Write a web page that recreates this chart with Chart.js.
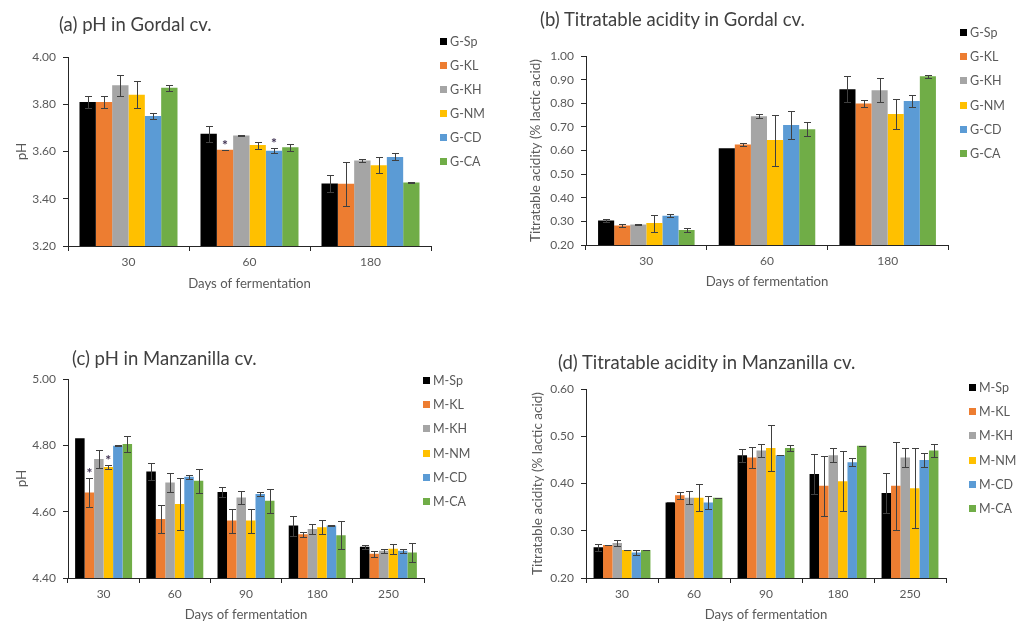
<!DOCTYPE html>
<html>
<head>
<meta charset="utf-8">
<title>pH and titratable acidity during fermentation</title>
<script src="https://cdn.jsdelivr.net/npm/chart.js@4.4.1/dist/chart.umd.min.js"></script>
<style>
  body { margin: 0; background: #fff; font-family: Lato, sans-serif; }
  #page { position: relative; width: 1021px; height: 624px; overflow: hidden; }
  .panel { position: absolute; }
  .title { position: absolute; white-space: nowrap; color: #404040; font-size: 18.5px; line-height: 20px; }
  .legend { position: absolute; font-size: 12.5px; color: #595959; }
  .legend .item { position: absolute; left: 0; white-space: nowrap; height: 14px; line-height: 14px; }
  .legend .box { position: absolute; left: 0; top: 3px; width: 7px; height: 7px; }
  .legend .txt { position: absolute; left: 10px; top: 0; }
</style>
</head>
<body>
<div id="page">
  <div class="panel" style="left:0;top:0;width:510px;height:310px"><canvas id="chartA"></canvas></div>
  <div class="panel" style="left:510px;top:0;width:511px;height:310px"><canvas id="chartB"></canvas></div>
  <div class="panel" style="left:0;top:310px;width:510px;height:314px"><canvas id="chartC"></canvas></div>
  <div class="panel" style="left:510px;top:310px;width:511px;height:314px"><canvas id="chartD"></canvas></div>

  <div class="title" style="left:59px;top:14px">(a) pH in Gordal cv.</div>
  <div class="title" style="left:540px;top:9px">(b) Titratable acidity in Gordal cv.</div>
  <div class="title" style="left:72px;top:348px">(c) pH in Manzanilla cv.</div>
  <div class="title" style="left:558px;top:352px">(d) Titratable acidity in Manzanilla cv.</div>

  <div class="legend" id="legendA" style="left:440px;top:35px"></div>
  <div class="legend" id="legendB" style="left:960px;top:26px"></div>
  <div class="legend" id="legendC" style="left:423px;top:374px"></div>
  <div class="legend" id="legendD" style="left:969px;top:381px"></div>
</div>

<script>
        // Categories and series names
        const gordalDays = ['30', '60', '180'];
        const manzDays = ['30', '60', '90', '180', '250'];
        const gordalSeries = ['G-Sp', 'G-KL', 'G-KH', 'G-NM', 'G-CD', 'G-CA'];
        const manzSeries = ['M-Sp', 'M-KL', 'M-KH', 'M-NM', 'M-CD', 'M-CA'];
        const seriesColors = ['#000000', '#ED7D31', '#A5A5A5', '#FFC000', '#5B9BD5', '#70AD47'];

        // (a) pH in Gordal, one row per series
        const gordalPh = [
            [3.81, 3.675, 3.465],
            [3.81, 3.607, 3.463],
            [3.88, 3.668, 3.562],
            [3.84, 3.627, 3.542],
            [3.75, 3.603, 3.577],
            [3.87, 3.618, 3.469]
        ];
        const gordalPhErr = [
            [0.027, 0.035, 0.035],
            [0.027, 0.001, 0.092],
            [0.044, 0.001, 0.008],
            [0.057, 0.015, 0.035],
            [0.013, 0.010, 0.015],
            [0.012, 0.015, 0.001]
        ];
        const gordalPhStars = [[1, 1], [4, 1]]; // [series, day]

        // (b) Titratable acidity in Gordal
        const gordalTa = [
            [0.304, 0.610, 0.859],
            [0.283, 0.625, 0.799],
            [0.287, 0.745, 0.855],
            [0.293, 0.644, 0.755],
            [0.324, 0.708, 0.810],
            [0.263, 0.690, 0.914]
        ];
        const gordalTaErr = [
            [0.008, 0.001, 0.055],
            [0.008, 0.008, 0.015],
            [0.001, 0.008, 0.050],
            [0.036, 0.108, 0.063],
            [0.006, 0.058, 0.027],
            [0.008, 0.029, 0.007]
        ];

        // (c) pH in Manzanilla
        const manzPh = [
            [4.821, 4.721, 4.659, 4.558, 4.494],
            [4.658, 4.578, 4.573, 4.532, 4.473],
            [4.759, 4.688, 4.643, 4.548, 4.482],
            [4.735, 4.623, 4.573, 4.553, 4.488],
            [4.799, 4.705, 4.653, 4.558, 4.482],
            [4.804, 4.693, 4.633, 4.529, 4.477]
        ];
        const manzPhErr = [
            [0.000, 0.027, 0.014, 0.030, 0.006],
            [0.043, 0.042, 0.036, 0.008, 0.009],
            [0.028, 0.029, 0.020, 0.016, 0.006],
            [0.007, 0.078, 0.036, 0.021, 0.015],
            [0.001, 0.007, 0.007, 0.001, 0.006],
            [0.023, 0.036, 0.036, 0.042, 0.029]
        ];
        const manzPhStars = [[1, 0], [3, 0]];

        // (d) Titratable acidity in Manzanilla
        const manzTa = [
            [0.265, 0.360, 0.460, 0.420, 0.380],
            [0.270, 0.375, 0.455, 0.395, 0.395],
            [0.274, 0.370, 0.470, 0.460, 0.455],
            [0.259, 0.370, 0.475, 0.405, 0.390],
            [0.254, 0.360, 0.460, 0.445, 0.450],
            [0.259, 0.370, 0.475, 0.480, 0.470]
        ];
        const manzTaErr = [
            [0.007, 0.000, 0.014, 0.042, 0.043],
            [0.000, 0.007, 0.022, 0.064, 0.093],
            [0.007, 0.014, 0.014, 0.015, 0.021],
            [0.000, 0.029, 0.049, 0.064, 0.085],
            [0.006, 0.014, 0.000, 0.008, 0.015],
            [0.000, 0.000, 0.007, 0.000, 0.014]
        ];

        Chart.defaults.font.family = 'Lato, sans-serif';
        Chart.defaults.color = '#595959';

        // Plugin: error bars and significance asterisks
        const errorBarPlugin = {
            id: 'errorBars',
            afterDatasetsDraw(chart, args, opts) {
                const ctx = chart.ctx;
                const y = chart.scales.y;
                ctx.save();
                ctx.strokeStyle = '#404040';
                ctx.lineWidth = 1;
                chart.data.datasets.forEach((ds, i) => {
                    const meta = chart.getDatasetMeta(i);
                    meta.data.forEach((bar, j) => {
                        const v = ds.data[j], e = ds.errors[j];
                        const x = Math.round(bar.x) + 0.5;
                        const top = Math.round(y.getPixelForValue(v + e)) + 0.5;
                        const bot = Math.round(y.getPixelForValue(v - e)) + 0.5;
                        ctx.beginPath();
                        ctx.moveTo(x, top); ctx.lineTo(x, bot);
                        ctx.moveTo(x - 3.5, top); ctx.lineTo(x + 3.5, top);
                        ctx.moveTo(x - 3.5, bot); ctx.lineTo(x + 3.5, bot);
                        ctx.stroke();
                    });
                });
                ctx.fillStyle = '#3f3151';
                ctx.font = 'bold 14px Lato, sans-serif';
                ctx.textAlign = 'center';
                ctx.textBaseline = 'alphabetic';
                (opts.stars || []).forEach(([s, d]) => {
                    const ds = chart.data.datasets[s];
                    const bar = chart.getDatasetMeta(s).data[d];
                    const top = y.getPixelForValue(ds.data[d] + ds.errors[d]);
                    ctx.fillText('*', bar.x, top);
                });
                ctx.restore();
            }
        };

        // Build a bar chart panel
        function makePanel(canvasId, days, names, values, errors, cfg) {
            const ctx = document.getElementById(canvasId).getContext('2d');
            return new Chart(ctx, {
                type: 'bar',
                data: {
                    labels: days,
                    datasets: names.map((name, i) => ({
                        label: name,
                        data: values[i],
                        errors: errors[i],
                        backgroundColor: seriesColors[i],
                        borderWidth: 0,
                        barPercentage: 1.0,
                        categoryPercentage: cfg.cat
                    }))
                },
                options: {
                    responsive: true,
                    maintainAspectRatio: false,
                    animation: false,
                    layout: { padding: cfg.pad },
                    plugins: {
                        legend: { display: false },
                        title: { display: false },
                        tooltip: { enabled: false },
                        errorBars: { stars: cfg.stars }
                    },
                    scales: {
                        x: {
                            afterFit(scale) { scale.height = cfg.xH; },
                            grid: { drawOnChartArea: false, drawTicks: true, tickLength: 5, color: '#262626', offset: true },
                            border: { color: '#262626', width: 1 },
                            ticks: { padding: 4, font: { size: 12 }, color: '#595959' },
                            title: { display: true, text: 'Days of fermentation', font: { size: 13.2 }, color: '#595959', padding: { top: 2, bottom: 1 } }
                        },
                        y: {
                            min: cfg.min,
                            max: cfg.max,
                            afterFit(scale) { scale.width = cfg.yW; },
                            grid: { drawOnChartArea: false, drawTicks: true, tickLength: 5, color: '#262626' },
                            border: { color: '#262626', width: 1 },
                            ticks: {
                                stepSize: cfg.step,
                                padding: 7,
                                font: { size: 12 },
                                color: '#595959',
                                callback: v => v.toFixed(2)
                            },
                            title: { display: true, text: cfg.yTitle, font: { size: 13.5 }, color: '#595959', padding: { top: 3, bottom: 2 } }
                        }
                    }
                },
                plugins: [errorBarPlugin]
            });
        }

        // HTML legend from chart datasets
        function buildLegend(chart, legendId, spacing) {
            const el = document.getElementById(legendId);
            chart.data.datasets.forEach((ds, i) => {
                const item = document.createElement('div');
                item.className = 'item';
                item.style.top = (i * spacing) + 'px';
                item.innerHTML = '<span class="box" style="background:' + ds.backgroundColor + '"></span><span class="txt">' + ds.label + '</span>';
                el.appendChild(item);
            });
        }

        const chartA = makePanel('chartA', gordalDays, gordalSeries, gordalPh, gordalPhErr, {
            min: 3.2, max: 4.0, step: 0.2, yTitle: 'pH', cat: 0.81, stars: gordalPhStars,
            yW: 57, xH: 47, pad: { left: 11, right: 79, top: 57, bottom: 17 }
        });
        const chartB = makePanel('chartB', gordalDays, gordalSeries, gordalTa, gordalTaErr, {
            min: 0.2, max: 1.0, step: 0.1, yTitle: 'Titratable acidity (% lactic acid)', cat: 0.80, stars: [],
            yW: 61, xH: 46, pad: { left: 15, right: 73, top: 56, bottom: 19 }
        });
        const chartC = makePanel('chartC', manzDays, manzSeries, manzPh, manzPhErr, {
            min: 4.4, max: 5.0, step: 0.2, yTitle: 'pH', cat: 0.80, stars: manzPhStars,
            yW: 57, xH: 46, pad: { left: 11, right: 86, top: 69, bottom: 0 }
        });
        const chartD = makePanel('chartD', manzDays, manzSeries, manzTa, manzTaErr, {
            min: 0.2, max: 0.6, step: 0.1, yTitle: 'Titratable acidity (% lactic acid)', cat: 0.79, stars: [],
            yW: 59, xH: 46, pad: { left: 17, right: 75, top: 79, bottom: 0 }
        });

        buildLegend(chartA, 'legendA', 24);
        buildLegend(chartB, 'legendB', 24.2);
        buildLegend(chartC, 'legendC', 24.2);
        buildLegend(chartD, 'legendD', 24.2);
</script>
</body>
</html>
